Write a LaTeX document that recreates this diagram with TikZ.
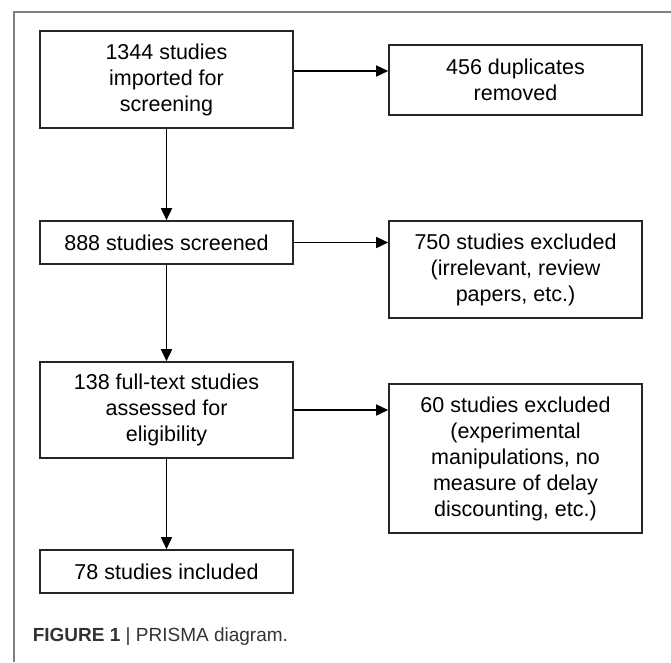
\documentclass[tikz,border=0pt]{standalone}
\usepackage{fontspec}
\setmainfont{Liberation Sans}
\usetikzlibrary{arrows.meta,positioning,calc}

\begin{document}
\begin{tikzpicture}[->,>={Triangle[length=12pt,width=11pt]}, x=1pt, y=-1pt, line width=1.6pt]

    \tikzset{box/.style={draw=black!85, rectangle, align=center, minimum width=253pt, inner sep=0pt, font=\fontsize{21.5}{26}\selectfont}}

    \useasboundingbox (0,0) rectangle (671,662);
    \draw[-, gray, line width=1.6pt] (14,662) -- (14,12) -- (671,12);

    \node[box, minimum height=97pt] (A) at (166.5,79.5)  {1344 studies\\imported for\\screening};
    \node[box, minimum height=70pt] (B) at (515.5,80)    {456 duplicates\\removed};
    \node[box, minimum height=43pt] (C) at (166.5,242.5) {888 studies screened};
    \node[box, minimum height=97pt] (D) at (515.5,269.5) {750 studies excluded\\(irrelevant, review\\papers, etc.)};
    \node[box, minimum height=96pt] (E) at (166.5,410)   {138 full-text studies\\assessed for\\eligibility};
    \node[box, minimum height=149pt] (F) at (515.5,458.5) {60 studies excluded\\(experimental\\manipulations, no\\measure of delay\\discounting, etc.)};
    \node[box, minimum height=43pt] (G) at (166.5,571.5) {78 studies included};

    \draw ([yshift=8.5pt]A.east) -- ([yshift=9pt]B.west);
    \draw (A) -- (C);
    \draw (C.east) -- (C.east -| D.west);
    \draw (C) -- (E);
    \draw (E.east) -- (E.east -| F.west);
    \draw (E) -- (G);

    \node [anchor=west, inner sep=0pt, text=black!80, font=\fontsize{19}{22}\selectfont] (cap) at (32,637) {\textbf{FIGURE 1} | PRISMA diagram.};
\end{tikzpicture}
\end{document}
